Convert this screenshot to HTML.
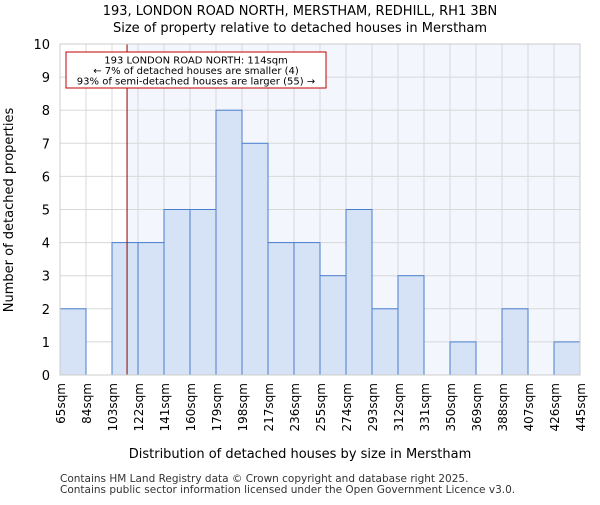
<!DOCTYPE html>
<html><head><meta charset="utf-8"><style>body{margin:0;background:#fff}svg text{font-family:"DejaVu Sans","Liberation Sans",sans-serif}</style></head><body>
<svg id="c" width="600" height="500" xmlns="http://www.w3.org/2000/svg"></svg>
<script>
const categories=["65sqm","84sqm","103sqm","122sqm","141sqm","160sqm","179sqm","198sqm","217sqm","236sqm","255sqm","274sqm","293sqm","312sqm","331sqm","350sqm","369sqm","388sqm","407sqm","426sqm","445sqm"];
const counts=[2,0,4,4,5,5,8,7,4,4,3,5,2,3,0,1,0,2,0,1];
const yTicks=[0,1,2,3,4,5,6,7,8,9,10];
const binStart=[65];const binWidth=[19];
const propertySize=[114];
const svg=document.getElementById('c');const NS='http://www.w3.org/2000/svg';
const L=60,R=580,T=44,B=375;
const x=v=>L+(v-65)/(445-65)*(R-L);
const y=v=>B-v/10*(B-T);
function el(t,a,p){const e=document.createElementNS(NS,t);for(const k in a)e.setAttribute(k,a[k]);(p||svg).appendChild(e);return e;}
let e;
e=el('rect',{x:L,y:T,width:R-L,height:B-T,fill:'#fff'});
const px=x(propertySize[0]);
e=el('rect',{x:px,y:T,width:R-px,height:B-T,fill:'#f3f6fd'});
yTicks.forEach(t=>{e=el('line',{x1:L,x2:R,y1:y(t),y2:y(t),stroke:'#d8d8d8'});
e=el('text',{x:L-10,y:y(t)+5,'text-anchor':'end','font-size':13});e.textContent=t;});
categories.forEach((c,i)=>{const xv=x(binStart[0]+i*binWidth[0]);
e=el('line',{x1:xv,x2:xv,y1:T,y2:B,stroke:'#d8d8d8'});
e=el('text',{transform:`translate(${xv+5},${B+8}) rotate(-90)`,'text-anchor':'end','font-size':12});e.textContent=c;});
counts.forEach((v,i)=>{if(!v)return;const x0=x(binStart[0]+i*binWidth[0]),x1=x(binStart[0]+(i+1)*binWidth[0]);
e=el('rect',{x:x0,y:y(v),width:x1-x0,height:B-y(v),fill:'#d6e2f5',stroke:'#4a7fcf','stroke-width':1});});
e=el('line',{x1:px,x2:px,y1:T,y2:B,stroke:'#900000','stroke-width':1});
e=el('rect',{x:L,y:T,width:R-L,height:B-T,fill:'none',stroke:'#ccc'});
e=el('rect',{x:66,y:52,width:260,height:36,fill:'#fff',stroke:'#c00000'});
["193 LONDON ROAD NORTH: 114sqm","← 7% of detached houses are smaller (4)","93% of semi-detached houses are larger (55) →"].forEach((s,i)=>{e=el('text',{x:196,y:63.5+i*10.5,'text-anchor':'middle','font-size':10});e.textContent=s;});
e=el('text',{x:300,y:15,'text-anchor':'middle','font-size':13});e.textContent="193, LONDON ROAD NORTH, MERSTHAM, REDHILL, RH1 3BN";
e=el('text',{x:300,y:32,'text-anchor':'middle','font-size':13});e.textContent="Size of property relative to detached houses in Merstham";
e=el('text',{x:300,y:458,'text-anchor':'middle','font-size':13});e.textContent="Distribution of detached houses by size in Merstham";
e=el('text',{transform:'translate(13,210) rotate(-90)','text-anchor':'middle','font-size':13});e.textContent="Number of detached properties";
e=el('text',{x:60,y:482,'font-size':10.5,fill:'#333'});e.textContent="Contains HM Land Registry data © Crown copyright and database right 2025.";
e=el('text',{x:60,y:493,'font-size':10.5,fill:'#333'});e.textContent="Contains public sector information licensed under the Open Government Licence v3.0.";
</script></body></html>
